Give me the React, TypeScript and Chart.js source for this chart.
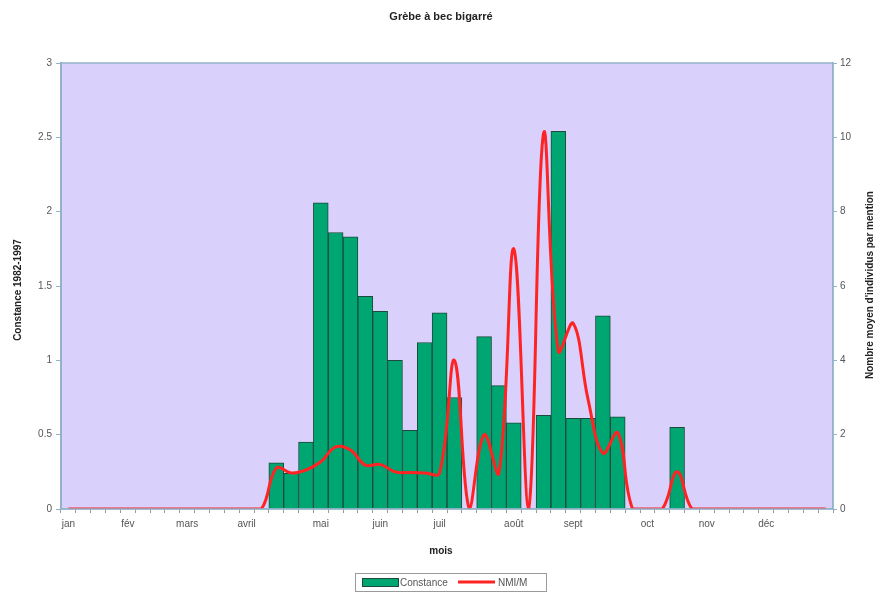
import React, { useEffect, useRef } from "react";
import { Chart, registerables } from "chart.js";

Chart.register(...registerables);

const monthLabels: [number, string][] = [
  [0, "jan"], [4, "fév"], [8, "mars"], [12, "avril"], [17, "mai"], [21, "juin"],
  [25, "juil"], [30, "août"], [34, "sept"], [39, "oct"], [43, "nov"], [47, "déc"],
];

const weeks: string[] = Array.from({ length: 52 }, () => "");
monthLabels.forEach(([i, m]) => { weeks[i] = m; });

const constance: number[] = [
  0, 0, 0, 0, 0, 0, 0, 0, 0, 0, 0, 0, 0, 0,
  0.31, 0.24, 0.45, 2.06, 1.86, 1.83, 1.43, 1.33, 1.0, 0.53, 1.12, 1.32,
  0.75, 0, 1.16, 0.83, 0.58, 0, 0.63, 2.54, 0.61, 0.61, 1.3, 0.62,
  0, 0, 0, 0.55, 0, 0, 0, 0, 0, 0, 0, 0, 0, 0,
];

const nmim: number[] = [
  0, 0, 0, 0, 0, 0, 0, 0, 0, 0, 0, 0, 0, 0,
  1.1, 0.97, 1.05, 1.27, 1.67, 1.59, 1.18, 1.2, 1.0, 0.98, 0.97, 0.97,
  4.0, 0, 2.0, 0.97, 7.0, 0, 10.1, 4.25, 5.0, 2.95, 1.5, 2.05,
  0, 0, 0, 1.0, 0, 0, 0, 0, 0, 0, 0, 0, 0, 0,
];

const TITLE = "Grèbe à bec bigarré";
const Y_LEFT_TITLE = "Constance 1982-1997";
const Y_RIGHT_TITLE = "Nombre moyen d'individus par mention";
const X_TITLE = "mois";

const FONT = "'Liberation Sans', Arial, sans-serif";
const BAR_COLOR = "#00a672";
const LINE_COLOR = "#ff2424";
const AXIS_COLOR = "#93b3c9";

const decorPlugin = {
  id: "decor",
  beforeDraw(chart: any) {
    const { ctx, chartArea: a } = chart;
    ctx.save();
    ctx.fillStyle = "#ffffff";
    ctx.fillRect(0, 0, chart.width, chart.height);
    ctx.fillStyle = "#d9d0fc";
    ctx.fillRect(a.left, a.top, a.right - a.left, a.bottom - a.top);
    ctx.restore();
  },
  afterDraw(chart: any) {
    const { ctx, chartArea: a } = chart;
    ctx.save();
    ctx.strokeStyle = AXIS_COLOR;
    ctx.lineWidth = 1.5;
    ctx.strokeRect(a.left, a.top, a.right - a.left, a.bottom - a.top);

    ctx.fillStyle = "#222";
    ctx.textAlign = "center";
    ctx.textBaseline = "middle";
    ctx.font = `bold 11px ${FONT}`;
    ctx.fillText(TITLE, 441, 17);

    ctx.font = `bold 10px ${FONT}`;
    ctx.fillText(X_TITLE, 441, 551);

    ctx.save();
    ctx.translate(18, 290);
    ctx.rotate(-Math.PI / 2);
    ctx.fillText(Y_LEFT_TITLE, 0, 0);
    ctx.restore();

    ctx.save();
    ctx.translate(870, 285);
    ctx.rotate(-Math.PI / 2);
    ctx.fillText(Y_RIGHT_TITLE, 0, 0);
    ctx.restore();

    // legend
    const lx = 355, ly = 573, lw = 191, lh = 18;
    ctx.strokeStyle = "#9a9a9a";
    ctx.lineWidth = 1;
    ctx.strokeRect(lx + 0.5, ly + 0.5, lw, lh);
    ctx.fillStyle = BAR_COLOR;
    ctx.fillRect(362, 578, 36, 8);
    ctx.strokeStyle = "#1d4a3a";
    ctx.strokeRect(362.5, 578.5, 36, 8);
    ctx.fillStyle = "#555";
    ctx.textAlign = "left";
    ctx.font = `10px ${FONT}`;
    ctx.fillText("Constance", 400, 583);
    ctx.strokeStyle = LINE_COLOR;
    ctx.lineWidth = 3;
    ctx.beginPath();
    ctx.moveTo(458, 582);
    ctx.lineTo(495, 582);
    ctx.stroke();
    ctx.fillText("NMI/M", 498, 583);
    ctx.restore();
  },
};

export default function App() {
  const ref = useRef<HTMLCanvasElement | null>(null);

  useEffect(() => {
    if (!ref.current) return;
    const chart = new Chart(ref.current, {
      type: "bar",
      data: {
        labels: weeks,
        datasets: [
          {
            type: "line",
            label: "NMI/M",
            data: nmim,
            yAxisID: "y1",
            borderColor: LINE_COLOR,
            backgroundColor: LINE_COLOR,
            borderWidth: 3,
            pointRadius: 0,
            tension: 0.4,
            order: 1,
          } as any,
          {
            type: "bar",
            label: "Constance",
            data: constance,
            yAxisID: "y",
            backgroundColor: BAR_COLOR,
            borderColor: "#1d4a3a",
            borderWidth: 1,
            categoryPercentage: 1,
            barPercentage: 1,
            order: 2,
          },
        ],
      },
      plugins: [decorPlugin],
      options: {
        responsive: false,
        animation: false,
        layout: { padding: { top: 63, left: 0, right: 0, bottom: 0 } },
        plugins: {
          legend: { display: false },
          title: { display: false },
          tooltip: { enabled: false },
        },
        scales: {
          x: {
            offset: true,
            grid: { offset: true, drawOnChartArea: false, tickLength: 4, color: "#9a9a9a" },
            border: { color: AXIS_COLOR, width: 1.5 },
            ticks: {
              autoSkip: false,
              maxRotation: 0,
              minRotation: 0,
              padding: 5,
              color: "#555",
              font: { family: FONT, size: 10 },
            },
            afterFit(scale: any) { scale.height = 84; },
          },
          y: {
            position: "left",
            min: 0,
            max: 3,
            ticks: {
              stepSize: 0.5,
              padding: 4,
              color: "#555",
              font: { family: FONT, size: 10 },
              callback: (v: any) => String(Number(v)),
            },
            grid: { drawOnChartArea: false, tickLength: 5, color: AXIS_COLOR },
            border: { color: AXIS_COLOR, width: 2 },
            afterFit(scale: any) { scale.width = 61; },
          },
          y1: {
            position: "right",
            min: 0,
            max: 12,
            ticks: {
              stepSize: 2,
              padding: 3,
              color: "#555",
              font: { family: FONT, size: 10 },
              callback: (v: any) => String(Number(v)),
            },
            grid: { drawOnChartArea: false, tickLength: 4, color: AXIS_COLOR },
            border: { color: AXIS_COLOR, width: 1.5 },
            afterFit(scale: any) { scale.width = 48; },
          },
        },
      },
    });
    return () => chart.destroy();
  }, []);

  return (
    <div style={{ position: "fixed", left: 0, top: 0, width: 881, height: 593, background: "#fff" }}>
      <canvas ref={ref} width={881} height={593} />
    </div>
  );
}
